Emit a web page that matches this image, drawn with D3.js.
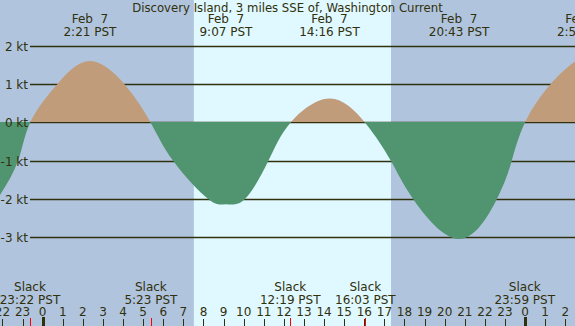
<!DOCTYPE html>
<html>
<head>
<meta charset="utf-8">
<script src="https://cdn.jsdelivr.net/npm/d3@7"></script>
<style>
  body { margin: 0; background: #b0c4de; }
  svg { display: block; }
  text { font-family: "DejaVu Sans", sans-serif; font-size: 12px; fill: #30300c; white-space: pre; }
  text.title { font-size: 11.7px; }
</style>
</head>
<body>
<div id="chart"></div>
<script>
// Hours are measured from Feb 7 00:00 PST
const titleText = "Discovery Island, 3 miles SSE of, Washington Current";

const curveHours = [-2.124, -1.23, -0.633, 0.70, 2.35, 4.09, 5.383, 6.5, 8.25, 9.117, 10.05, 11.22,
  12.317, 14.267, 16.05, 17.33, 18.44, 20.717, 22.59, 23.33, 23.983, 25.24, 26.48, 26.9];
const curveKnots = [-1.89, -1.0, 0, 1.0, 1.62, 1.0, 0, -1.0, -2.0, -2.13, -2.0, -1.0,
  0, 0.64, 0, -1.0, -2.0, -3.04, -2.0, -1.0, 0, 1.0, 1.6, 1.65];

const maxHours = [2.35, 9.117, 14.267, 20.717, 26.9];
const maxDates = ["Feb  7", "Feb  7", "Feb  7", "Feb  7", "Feb  8"];
const maxLabels = ["2:21 PST", "9:07 PST", "14:16 PST", "20:43 PST", "2:54 PST"];

const slackHours = [-0.633, 5.383, 12.317, 16.05, 23.983];
const slackLabels = ["23:22 PST", "5:23 PST", "12:19 PST", "16:03 PST", "23:59 PST"];

const sunrise = 7.52;
const sunset = 17.33;

const levelTicks = [2, 1, 0, -1, -2, -3];
const levelLabels = ["2 kt", "1 kt", "0 kt", "-1 kt", "-2 kt", "-3 kt"];

const hourTicks = d3.range(-2, 27);
const hourLabels = ["22", "23", "0", "1", "2", "3", "4", "5", "6", "7", "8", "9", "10", "11", "12",
  "13", "14", "15", "16", "17", "18", "19", "20", "21", "22", "23", "0", "1", "2"];
const midnightHours = [0, 24];

const width = 575, height = 326;

const svg = d3.select("#chart").append("svg")
  .attr("width", width)
  .attr("height", height);

const x = d3.scaleLinear().domain([-2.124, 26.483]).range([0, width]);
const y = d3.scaleLinear().domain([-3, 2]).range([237.5, 46.5]);
const crisp = v => Math.floor(y(v)) + 0.5;

// night / day background
svg.append("rect")
  .attr("width", width).attr("height", height)
  .attr("fill", "#b0c4de");
svg.append("rect")
  .attr("x", x(sunrise)).attr("y", 0)
  .attr("width", x(sunset) - x(sunrise)).attr("height", height)
  .attr("fill", "#e0f8ff");

// level lines (under the fill)
svg.append("g").selectAll("line")
  .data(levelTicks)
  .join("line")
  .attr("x1", 30).attr("x2", width)
  .attr("y1", d => crisp(d)).attr("y2", d => crisp(d))
  .attr("stroke", "#30300c")
  .attr("stroke-width", 1.5);

// current curve, flood above / ebb below
const pts = curveHours.map((h, i) => [h, curveKnots[i]]);
const zeroY = crisp(0) - 0.5;

const area = d3.area()
  .x(d => x(d[0]))
  .y0(zeroY)
  .y1(d => y(d[1]))
  .curve(d3.curveNatural);

const defs = svg.append("defs");
defs.append("clipPath").attr("id", "clip-flood")
  .append("rect").attr("x", 0).attr("y", 0).attr("width", width).attr("height", zeroY + 1);
defs.append("clipPath").attr("id", "clip-ebb")
  .append("rect").attr("x", 0).attr("y", zeroY).attr("width", width).attr("height", height);

svg.append("path")
  .datum(pts)
  .attr("d", area)
  .attr("fill", "#c09c7a")
  .attr("clip-path", "url(#clip-flood)");

svg.append("path")
  .datum(pts)
  .attr("d", area)
  .attr("fill", "#509470")
  .attr("clip-path", "url(#clip-ebb)");

// level labels sit on top of the fill
svg.append("g").selectAll("text")
  .data(levelTicks)
  .join("text")
  .attr("x", 28)
  .attr("y", d => crisp(d) + 4.5)
  .attr("text-anchor", "end")
  .text((d, i) => levelLabels[i]);

// title
svg.append("text")
  .attr("class", "title")
  .attr("x", width / 2).attr("y", 11.5)
  .attr("text-anchor", "middle")
  .text(titleText);

// max current labels
const maxG = svg.append("g").selectAll("g")
  .data(maxHours)
  .join("g")
  .attr("transform", d => `translate(${x(d)},0)`);
maxG.append("text").attr("y", 23).attr("text-anchor", "middle").text((d, i) => maxDates[i]);
maxG.append("text").attr("y", 35.5).attr("text-anchor", "middle").text((d, i) => maxLabels[i]);

// slack labels
const slackG = svg.append("g").selectAll("g")
  .data(slackHours)
  .join("g")
  .attr("transform", d => `translate(${x(d)},0)`);
slackG.append("text").attr("y", 291).attr("text-anchor", "middle").text("Slack");
slackG.append("text").attr("y", 303.5).attr("text-anchor", "middle").text((d, i) => slackLabels[i]);

// hour axis
svg.append("g").selectAll("text")
  .data(hourTicks)
  .join("text")
  .attr("x", d => x(d))
  .attr("y", 315.5)
  .attr("text-anchor", "middle")
  .text((d, i) => hourLabels[i]);

svg.append("g").selectAll("line")
  .data(hourTicks)
  .join("line")
  .attr("x1", d => Math.round(x(d)) + 0.5).attr("x2", d => Math.round(x(d)) + 0.5)
  .attr("y1", 319).attr("y2", height)
  .attr("stroke", "#30300c");

svg.append("g").selectAll("line")
  .data(slackHours)
  .join("line")
  .attr("x1", d => Math.round(x(d)) + 0.5).attr("x2", d => Math.round(x(d)) + 0.5)
  .attr("y1", 318).attr("y2", height)
  .attr("stroke", "#ff0000");

svg.append("g").selectAll("rect")
  .data(midnightHours)
  .join("rect")
  .attr("x", d => Math.round(x(d)) - 1)
  .attr("y", 317)
  .attr("width", 3)
  .attr("height", height - 317)
  .attr("fill", "#30300c");
</script>
</body>
</html>
